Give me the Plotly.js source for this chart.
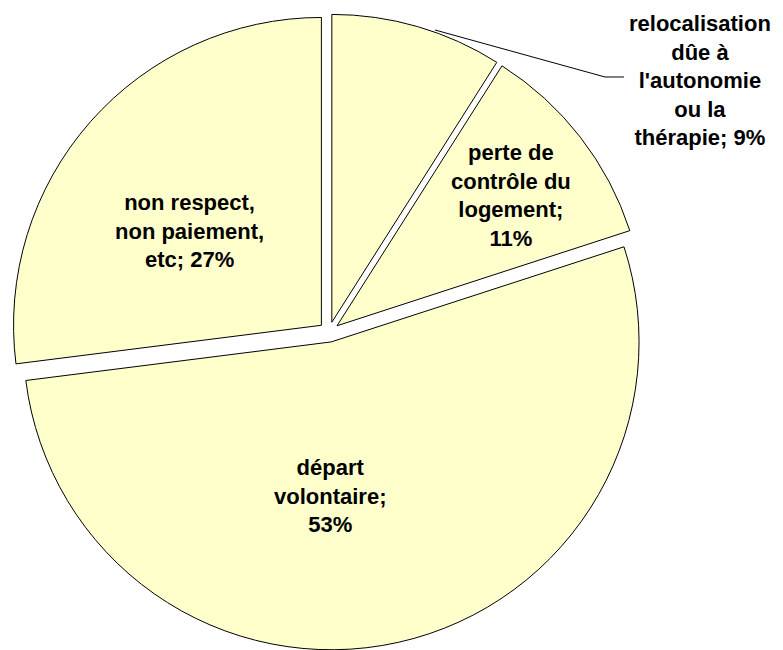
<!DOCTYPE html>
<html>
<head>
<meta charset="utf-8">
<script src="https://cdn.plot.ly/plotly-3.0.1.min.js"></script>
<style>
  html, body { margin: 0; padding: 0; background: #ffffff; }
  #chart { width: 783px; height: 650px; }
</style>
</head>
<body>
<div id="chart"></div>
<script>
// ---- data ----
const labels = [
  "relocalisation dûe à l'autonomie ou la thérapie",
  "perte de contrôle du logement",
  "départ volontaire",
  "non respect, non paiement, etc"
];
const values = [9, 11, 53, 27];
const labelTexts = [
  "relocalisation<br>dûe à<br>l'autonomie<br>ou la<br>thérapie; 9%",
  "perte de<br>contrôle du<br>logement;<br>11%",
  "départ<br>volontaire;<br>53%",
  "non respect,<br>non paiement,<br>etc; 27%"
];

// ---- layout helpers (pixel -> paper) ----
const W = 783, H = 650;
const px = x => x / W;
const py = y => (H - y) / H;

// label centres in pixels (style / placement)
const labelPos = [[700, 80], [511, 195], [330, 496], [189, 231]];

const annotations = labelTexts.map((t, i) => ({
  text: t,
  x: px(labelPos[i][0]),
  y: py(labelPos[i][1]),
  xref: 'paper', yref: 'paper',
  xanchor: 'center', yanchor: 'middle',
  align: 'center',
  showarrow: false,
  font: { family: 'Liberation Sans, Arial, sans-serif', size: 22, color: '#000000', weight: 'bold' }
}));

const leader = [[435, 30], [605, 77], [624, 77]];
const leaderPath = 'M ' + leader.map(p => px(p[0]).toFixed(5) + ',' + py(p[1]).toFixed(5)).join(' L ');

const trace = {
  type: 'pie',
  labels: labels,
  values: values,
  sort: false,
  direction: 'clockwise',
  rotation: 0,
  pull: 0.033,
  textinfo: 'none',
  hoverinfo: 'none',
  showlegend: false,
  marker: {
    colors: ['#FFFFCC', '#FFFFCC', '#FFFFCC', '#FFFFCC'],
    line: { color: '#000000', width: 1 }
  },
  domain: { x: [11 / W, 647 / W], y: [0, 636 / H] }
};

const layout = {
  width: W, height: H,
  margin: { l: 0, r: 0, t: 0, b: 0 },
  paper_bgcolor: '#ffffff',
  plot_bgcolor: '#ffffff',
  showlegend: false,
  annotations: annotations,
  shapes: [{
    type: 'path', xref: 'paper', yref: 'paper',
    path: leaderPath,
    line: { color: '#000000', width: 1 }
  }]
};

Plotly.newPlot('chart', [trace], layout, { displayModeBar: false, staticPlot: true });
</script>
</body>
</html>
